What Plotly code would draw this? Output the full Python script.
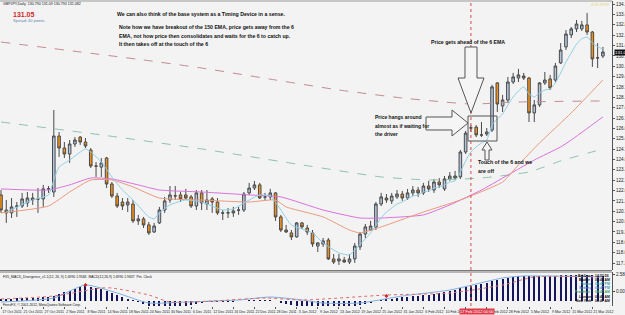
import plotly.graph_objects as go

# ---------------- data ----------------
OPEN = [121.76,120.78,120.59,121.01,121.04,121.24,121.56,121.50,121.50,122.15,
        121.95,125.59,124.81,124.42,125.07,125.52,125.20,124.68,123.64,123.57,
        124.16,122.47,121.69,121.30,121.11,121.17,120.07,120.20,119.81,119.35,
        119.94,120.78,121.43,121.69,121.76,121.76,121.63,121.04,121.89,121.17,
        121.50,121.30,120.59,120.59,120.59,120.78,120.78,121.89,122.21,122.41,
        121.63,121.63,121.89,120.33,119.48,119.29,119.03,119.94,119.61,119.29,
        118.44,118.57,118.83,117.60,117.47,117.53,117.40,117.60,118.38,119.22,
        119.48,119.68,121.17,121.56,121.37,121.63,121.82,121.56,121.89,122.08,
        121.89,122.34,122.08,122.60,122.15,122.80,122.99,122.93,124.55,126.11,
        126.17,125.66,125.72,125.98,129.04,127.54,127.93,129.10,129.36,129.49,
        129.36,127.09,127.61,129.04,129.30,129.23,130.34,131.38,132.16,132.55,
        132.55,132.81,132.35,130.66,130.79]
HIGH = [122.08,121.43,121.56,121.30,121.89,121.95,121.89,122.21,122.41,122.34,
        127.28,125.85,125.20,125.33,125.52,125.59,125.46,124.81,123.90,124.16,
        124.23,122.60,121.89,121.56,121.56,121.43,120.46,120.33,120.00,119.94,
        120.98,121.63,122.34,122.34,121.95,122.15,121.76,122.08,122.08,122.08,
        121.63,121.56,120.78,120.91,120.98,120.98,121.95,122.54,122.67,122.54,
        121.89,122.15,121.95,120.46,119.81,119.48,120.00,120.00,119.81,119.48,
        118.70,118.96,118.96,117.92,117.92,117.73,117.92,118.64,119.35,119.87,
        120.07,121.30,121.89,121.82,121.89,122.08,122.02,122.15,122.34,122.28,
        122.54,122.67,122.80,122.86,122.99,123.25,123.32,124.68,125.92,126.30,
        126.30,126.50,126.11,128.91,129.10,128.26,129.43,129.69,129.95,129.69,
        129.43,127.93,129.10,129.75,129.56,130.34,131.63,132.48,132.68,133.13,
        133.07,133.59,132.42,131.63,131.38]
LOW = [120.59,119.94,120.26,120.33,120.91,120.98,121.11,120.59,120.98,121.89,
       121.63,124.23,124.16,123.84,124.88,125.01,124.81,123.51,122.93,122.93,
       122.21,121.56,120.91,120.78,120.65,119.94,119.81,119.61,119.16,119.29,
       119.87,120.59,121.24,121.43,121.30,121.43,120.91,120.78,120.78,120.78,
       120.59,120.46,120.13,120.26,120.33,120.46,120.65,121.76,122.08,121.50,
       121.43,121.43,120.07,119.35,119.29,118.83,118.98,119.55,119.16,118.38,
       118.05,118.38,117.53,117.27,117.21,117.34,117.27,117.34,118.18,118.96,
       119.42,119.48,121.04,121.24,121.17,121.50,121.37,121.43,121.69,121.63,
       121.76,121.95,121.89,122.21,122.02,122.67,122.73,122.80,124.42,125.85,
       125.52,125.52,125.59,125.85,127.15,127.15,127.80,128.97,129.10,129.23,
       126.50,126.50,127.48,128.91,128.58,129.10,130.27,131.18,131.96,132.35,
       132.42,132.16,130.08,130.01,130.66]
CLOSE = [120.78,120.59,120.98,121.04,121.50,121.56,121.43,121.49,122.15,122.16,
         125.59,124.81,124.42,125.07,125.33,125.20,124.94,123.64,123.63,123.84,
         122.47,121.69,121.04,121.04,121.30,120.07,120.20,119.81,119.29,119.74,
         120.78,121.37,121.76,121.70,121.50,121.56,121.04,121.89,121.24,121.43,
         121.30,120.59,120.58,120.60,120.72,120.77,121.82,122.21,122.41,121.56,
         121.62,121.89,120.33,119.48,119.35,119.03,119.94,119.68,119.35,118.57,
         118.64,118.77,117.60,117.40,117.60,117.40,117.60,118.44,119.22,119.68,
         119.74,121.17,121.63,121.43,121.69,121.82,121.56,121.89,122.08,121.89,
         122.34,122.15,122.60,122.41,122.80,122.99,122.86,124.55,125.78,126.12,
         125.66,125.65,125.85,128.78,127.67,127.93,129.10,129.43,129.56,129.36,
         127.09,127.61,129.04,129.23,128.71,130.14,131.18,132.22,132.55,132.87,
         132.81,132.35,130.60,130.67,131.05]
BARS = list(range(len(OPEN)))

EMA6_BAR = [1,6,9,10,11,13,16,17,19,21,23,25,28,29,30,32,35,38,42,44,47,49,51,53,55,59,61,64,66,67,70,72,
            73,74,75,76,77,78,79,80,81,82,83,84,85,86,87,88,89,90,91,92,93,94,95,96,97,98,99,100,
            101,102,103,104,105,106,107,108,109,110,111,112,113,114]
EMA6_VAL = [120.65,121.43,121.76,122.73,123.58,124.03,124.75,124.55,123.90,122.93,122.08,121.43,120.33,120.20,
            120.59,121.11,121.43,121.30,120.78,120.85,121.43,121.76,121.69,120.78,119.81,119.29,118.64,117.99,
            117.86,118.18,119.29,120.26,
            120.65,120.91,121.17,121.30,121.50,121.69,121.76,121.95,122.02,122.21,122.28,122.41,122.60,122.67,
            123.25,123.97,124.55,124.88,125.14,125.33,126.31,126.70,127.02,127.61,128.13,128.52,128.78,128.32,
            128.13,128.39,128.58,128.65,129.04,129.69,130.40,130.99,131.57,131.90,132.03,131.64,131.38,131.25]

EMA20_BAR = [0,9,13,17,21,25,30,38,47,52,54,61,66,68,72,80,87,95,98,102,108,114]
EMA20_VAL = [120.59,121.04,121.95,122.73,122.73,122.28,121.56,121.43,121.30,121.43,120.98,120.33,119.48,
             119.29,119.68,120.65,121.43,122.60,123.71,125.14,127.09,129.23]

EMA50_BAR = [0,9,13,17,21,26,30,38,47,53,61,68,72,80,85,91,97,101,106,108,114]
EMA50_VAL = [122.15,122.08,122.41,122.86,122.80,122.41,122.08,121.95,121.76,121.63,120.78,120.26,120.26,
             120.46,121.11,122.08,123.25,124.03,124.88,125.33,126.83]

EMA100_BAR = [0,19,38,57,72,81,91,100,106,114]
EMA100_VAL = [126.50,125.66,124.75,123.71,122.93,122.73,122.86,123.25,123.97,124.75]

EMA150_BAR = [0,27,38,52,64,76,89,98,114]
EMA150_VAL = [131.70,130.53,130.01,129.23,128.58,128.06,127.67,127.80,127.87]

MACD_HIST = [0.2,0.2,0.2,0.3,0.3,0.3,0.3,0.3,0.4,0.4,
             0.5,0.7,0.9,1.0,1.2,1.4,1.5,1.4,1.3,1.2,
             1.0,0.8,0.6,0.4,0.2,0.05,-0.1,-0.3,-0.5,-0.7,
             -0.8,-0.8,-0.8,-0.7,-0.6,-0.5,-0.4,-0.3,-0.2,-0.1,
             -0.1,-0.1,-0.1,-0.1,-0.1,0.0,0.0,0.1,0.1,0.1,
             0.1,0.1,0.0,-0.2,-0.3,-0.4,-0.5,-0.5,-0.6,-0.6,
             -0.6,-0.6,-0.6,-0.6,-0.6,-0.6,-0.6,-0.5,-0.4,-0.3,
             -0.2,0.0,0.1,0.2,0.2,0.3,0.4,0.4,0.5,0.5,
             0.6,0.6,0.7,0.8,0.9,1.0,1.1,1.3,1.4,1.5,
             1.6,1.7,1.8,2.0,2.1,2.2,2.3,2.4,2.5,2.5,
             2.5,2.5,2.5,2.5,2.5,2.5,2.6,2.6,2.6,2.6,
             2.6,2.6,2.6,2.5,2.5]
MACD_BAR = [0,10,16,22,28,35,45,51,57,61,68,76,85,95,99,114]
MACD_VAL = [-0.1,0.3,1.6,0.8,-0.2,-0.1,0.1,0.4,0.1,-0.2,-0.2,0.5,1.1,2.3,2.5,2.4]
SIGNAL_BAR = [0,10,19,21,28,32,40,50,57,73,85,95,101,114]
SIGNAL_VAL = [0.2,0.5,1.3,1.3,0.6,-0.1,0.0,0.3,0.1,0.6,0.8,1.6,2.4,2.4]
DIV_BAR = [16,73]
DIV_VAL = [1.6,0.5]

DATE_TICK_BARS = list(range(0, 115, 4))
DATE_TICK_LABELS = ["17 Oct 2011","21 Oct 2011","27 Oct 2011","2 Nov 2011","8 Nov 2011","14 Nov 2011",
                    "18 Nov 2011","24 Nov 2011","30 Nov 2011","6 Dec 2011","12 Dec 2011","16 Dec 2011",
                    "22 Dec 2011","28 Dec 2011","3 Jan 2012","9 Jan 2012","13 Jan 2012","19 Jan 2012",
                    "25 Jan 2012","31 Jan 2012","6 Feb 2012","10 Feb 2012","16 Feb 2012","22 Feb 2012",
                    "28 Feb 2012","5 Mar 2012","9 Mar 2012","15 Mar 2012","21 Mar 2012"]
PRICE_TICKS = [117.335,118.008,118.681,119.354,120.027,120.700,121.373,122.046,122.719,123.392,124.065,
               124.738,125.411,126.084,126.757,127.430,128.103,128.776,129.449,130.122,130.795,131.468,
               132.141,132.814,133.487,134.160]
MACD_TICKS = [2.7, 1.0, -0.6]
MACD_TICK_TEXT = ["2.58451", "0.00", "-1.3580"]
MARKED_BAR = 89
MARKED_LABEL = "17 Feb 2012 00:00"
LAST_PRICE = "131.050"

# ---------------- layout helpers ----------------
W, H = 625, 315
ML, MR, MT, MB = 0, 13, 1, 9
PW, PH = W - ML - MR, H - MT - MB
def fx(p): return (p - ML) / PW
def fy(p): return (H - MB - p) / PH

BG = "#f3f3f3"
FONT = "Liberation Sans"

fig = go.Figure()
fig.add_trace(go.Candlestick(
    x=BARS, open=OPEN, high=HIGH, low=LOW, close=CLOSE,
    increasing=dict(fillcolor="#b4c6dc", line=dict(color="#4a4a4a", width=1)),
    decreasing=dict(fillcolor="#f0901c", line=dict(color="#4a4a4a", width=1)),
    whiskerwidth=0, showlegend=False, xaxis="x", yaxis="y"))

def line(bx, val, color, dash="solid", width=1):
    fig.add_trace(go.Scatter(x=bx, y=val, mode="lines", showlegend=False,
                             line=dict(color=color, width=width, dash=dash, shape="spline", smoothing=0.5),
                             xaxis="x", yaxis="y", hoverinfo="skip"))

line(EMA150_BAR, EMA150_VAL, "#c48a92", dash="dash")
line(EMA100_BAR, EMA100_VAL, "#8cc4ac", dash="dash")
line(EMA50_BAR, EMA50_VAL, "#dc70dc")
line(EMA20_BAR, EMA20_VAL, "#eb9a7c")
line(EMA6_BAR, EMA6_VAL, "#8fcfe8")

# MACD pane
fig.add_trace(go.Bar(x=BARS, y=MACD_HIST, width=0.22, marker=dict(color="#16165c", line=dict(width=0)),
                     showlegend=False, xaxis="x2", yaxis="y2"))
fig.add_trace(go.Scatter(x=MACD_BAR, y=MACD_VAL, mode="lines", showlegend=False,
                         line=dict(color="#7fb0e0", width=1, shape="spline", smoothing=0.6),
                         xaxis="x2", yaxis="y2"))
fig.add_trace(go.Scatter(x=SIGNAL_BAR, y=SIGNAL_VAL, mode="lines", showlegend=False,
                         line=dict(color="#e06a6a", width=1, dash="dot", shape="spline", smoothing=0.6),
                         xaxis="x2", yaxis="y2"))
fig.add_trace(go.Scatter(x=DIV_BAR, y=DIV_VAL, mode="markers", showlegend=False,
                         marker=dict(color="#d02020", size=3, symbol="diamond"),
                         xaxis="x2", yaxis="y2"))

XR = [-1 / 5.28, (PW - 1) / 5.28]
axis_font = dict(family=FONT, size=4.6, color="#222")
fig.update_layout(
    width=W, height=H, margin=dict(l=ML, r=MR, t=MT, b=MB),
    paper_bgcolor=BG, plot_bgcolor=BG, bargap=0, showlegend=False,
    xaxis=dict(domain=[0, 1], range=XR, anchor="y", showticklabels=False, showgrid=False,
               zeroline=False, rangeslider=dict(visible=False), fixedrange=True),
    yaxis=dict(domain=[fy(270), fy(MT)], range=[134.43 - 0.065 * 270, 134.43 - 0.065 * MT], side="right",
               tickvals=PRICE_TICKS, ticktext=[f"{v:.3f}" for v in PRICE_TICKS], tickfont=axis_font,
               ticks="outside", ticklen=2, tickcolor="#555", showgrid=False, zeroline=False,
               showline=True, linecolor="#555", linewidth=1, automargin=False),
    xaxis2=dict(domain=[0, 1], range=XR, anchor="y2", matches="x", tickvals=DATE_TICK_BARS,
                ticktext=DATE_TICK_LABELS, tickfont=dict(family=FONT, size=3.6, color="#222"),
                ticks="outside", ticklen=2, tickcolor="#555", showgrid=False, zeroline=False,
                ticklabelshift=11, ticklabelstandoff=0, automargin=False, tickangle=0),
    yaxis2=dict(domain=[0, fy(272)], range=[-0.5, 2.9], side="right", tickvals=MACD_TICKS,
                ticktext=MACD_TICK_TEXT, tickfont=axis_font, ticks="outside", ticklen=2,
                showgrid=False, zeroline=False, showline=True, linecolor="#555", automargin=False),
)

shapes = []
shapes.append(dict(type="line", xref="paper", yref="paper", x0=0, x1=1, y0=fy(1), y1=fy(1),
                   line=dict(color="#9a9a9a", width=1)))
for yy in (270.5, 272):
    shapes.append(dict(type="line", xref="paper", yref="paper", x0=0, x1=1, y0=fy(yy), y1=fy(yy),
                       line=dict(color="#7a7a7a", width=1)))
shapes.append(dict(type="line", xref="x", yref="paper", x0=MARKED_BAR, x1=MARKED_BAR, y0=0, y1=1,
                   line=dict(color="#d84848", width=1, dash="dot")))

def poly(pts):
    d = "M " + " L ".join(f"{fx(a):.5f},{fy(b):.5f}" for a, b in pts) + " Z"
    return dict(type="path", xref="paper", yref="paper", path=d,
                line=dict(color="#555", width=1), fillcolor="#f5f5f5", layer="above")

shapes.append(poly([(465, 47), (477, 47), (477, 78), (484, 78), (471, 113), (458, 78), (465, 78)]))
shapes.append(poly([(426, 117), (452, 117), (452, 110), (468, 123), (452, 136), (452, 130), (426, 130)]))
shapes.append(poly([(485, 160), (485, 150), (482, 150), (487, 142), (492, 150), (489, 150), (489, 160)]))
shapes.append(dict(type="rect", xref="paper", yref="paper", x0=fx(468), x1=fx(497), y0=fy(141), y1=fy(116),
                   line=dict(color="#555", width=1), fillcolor="rgba(0,0,0,0)", layer="above"))
fig.update_layout(shapes=shapes)

ann = []
def text(x, y, s, size=5.2, color="#111", bold=True, anchor="left", bg=None, fam=FONT):
    a = dict(xref="paper", yref="paper", x=fx(x), y=fy(y), text=(f"<b>{s}</b>" if bold else s),
             showarrow=False, xanchor=anchor, yanchor="middle",
             font=dict(family=fam, size=size, color=color), borderpad=0)
    if bg:
        a["bgcolor"] = bg
    ann.append(a)

text(2, 3.5, "GBPJPY,Daily  130.790 131.09 130.790 131.082", size=3.6, bold=False)
text(12, 14.5, "131.05", size=7, color="#d21f1f")
text(12, 20.5, "Spread: 40 points.", size=4, color="#5f86b0", bold=False)
text(590, 5, "4:29:19/70", size=3.8, color="#e0d060", bold=False)

text(116, 14, "We can also think of the base system as a Timing Device in a sense.")
text(118, 27, "Note how we have breakout of the 150 EMA, price gets away from the 6")
text(118, 35.5, "EMA, not how price then consolidates and waits for the 6 to catch up.")
text(118, 44, "It then takes off at the touch of the 6")
text(430, 42, "Price gets ahead of the 6 EMA")
text(374, 117, "Price hangs around", size=5.0)
text(374, 125.5, "almost as if waiting for", size=5.0)
text(374, 134, "the driver", size=5.0)
text(477, 162, "Touch of the 6 and we")
text(477, 170.5, "are off")

text(614, 52, LAST_PRICE, size=4.4, color="#fff", bold=False, bg="#111")
text(459, 311, MARKED_LABEL, size=4, color="#fff", bold=False, bg="#dd3b4a")

text(2, 276.5, "FX5_MACD_Divergence_v1.1(12, 26, 9) 1.6990 1.9584  MACD(12,26,9) 1.6990 1.9637  Pet. Clock",
     size=3.4, bold=False)
text(2, 304.5, "FerruFX, © 2001-2012, MetaQuotes Software Corp.", size=3.4, bold=False)

clock = [("Brk/Loc", "14:52:56", "#111"), ("Broker", "07:47 AM", "#111"), ("Tokyo", "04:47 PM", "#2aa9a0"),
         ("Sydney", "06:47 PM", "#4a8ad0"), ("Frankfurt", "08:47 AM", "#3aa860"),
         ("London", "07:47 AM", "#111"), ("New York", "02:47 AM", "#111")]
for k, (city, tm, col) in enumerate(clock):
    yy = 275.5 + k * 4.2
    text(592, yy, city, size=3.4, color=col, anchor="right")
    text(594, yy, tm, size=3.4, color=col)

fig.update_layout(annotations=ann)
fig.write_html("out.html")
